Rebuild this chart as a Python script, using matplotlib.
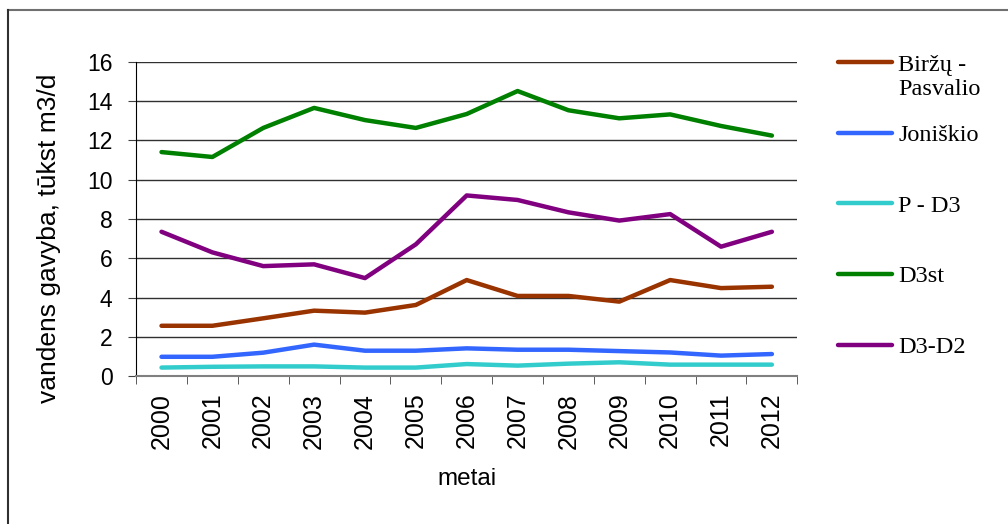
import matplotlib.pyplot as plt
from matplotlib.lines import Line2D

years = ['2000', '2001', '2002', '2003', '2004', '2005', '2006',
         '2007', '2008', '2009', '2010', '2011', '2012']

birzu = [2.56, 2.56, 2.94, 3.33, 3.23, 3.62, 4.89, 4.08, 4.08, 3.79, 4.89, 4.48, 4.55]
joniskio = [0.98, 0.98, 1.19, 1.60, 1.29, 1.29, 1.41, 1.34, 1.34, 1.27, 1.20, 1.04, 1.12]
p_d3 = [0.43, 0.47, 0.49, 0.49, 0.43, 0.43, 0.61, 0.53, 0.63, 0.70, 0.58, 0.58, 0.58]
d3st = [11.41, 11.16, 12.64, 13.66, 13.04, 12.64, 13.35, 14.52, 13.54, 13.13, 13.33, 12.74, 12.25]
d3_d2 = [7.35, 6.30, 5.60, 5.69, 4.99, 6.71, 9.20, 8.97, 8.34, 7.92, 8.25, 6.59, 7.35]

series = [
    ('Biržų -', birzu, '#993300'),
    ('Joniškio', joniskio, '#3366FF'),
    ('P - D3', p_d3, '#33CCCC'),
    ('D3st', d3st, '#008000'),
    ('D3-D2', d3_d2, '#800080'),
]

plt.rcParams['font.family'] = ['Liberation Sans', 'DejaVu Sans']

fig = plt.figure(figsize=(10.08, 5.24), dpi=100)
ax = fig.add_axes([0.135, 0.2824, 0.656, 0.5993])

x = list(range(len(years)))
for name, vals, col in series:
    ax.plot(x, vals, color=col, lw=3.2, solid_capstyle='round', label=name)

ax.set_ylim(0, 16)
ax.set_yticks(range(0, 17, 2))
ax.set_xlim(-0.5, len(years) - 0.5)
ax.set_xticks(x)
ax.set_xticklabels(years, rotation=90, fontsize=18)
ax.tick_params(axis='x', length=0, pad=12)
ax.set_xticks([i - 0.5 for i in range(len(years) + 1)], minor=True)
ax.tick_params(axis='x', which='minor', length=6, color='#404040')
ax.tick_params(axis='y', labelsize=16.5, length=6, color='#404040', direction='out', pad=11)
ax.grid(axis='y', color='#303030', lw=1)
ax.set_axisbelow(True)
for s in ['top', 'right']:
    ax.spines[s].set_visible(False)
ax.spines['left'].set_color('black')
ax.spines['bottom'].set_color('#808080')
ax.spines['bottom'].set_linewidth(1.5)

ax.set_ylabel('vandens gavyba, tūkst m3/d', fontsize=19)
ax.yaxis.set_label_coords(-0.113, 0.44)
ax.set_xlabel('metai', fontsize=17.5, labelpad=14)

leg = fig.legend(loc='upper left', bbox_to_anchor=(0.8194, 0.921), frameon=False,
                 prop={'family': 'Liberation Serif', 'size': 17.5}, borderpad=0,
                 handlelength=2.22, handletextpad=0.25, labelspacing=2.0)
for h in leg.legend_handles:
    h.set_linewidth(3.2)

# second line of the first legend label, placed under "Biržų -"
fig.canvas.draw()
bb = leg.get_texts()[0].get_window_extent()
fig.text(bb.x0 / 1008, (bb.y0 - 3) / 524, 'Pasvalio', va='top', ha='left',
         family='Liberation Serif', fontsize=17.5)

# outer chart frame (top and left edges only visible in the reference)
fig.add_artist(Line2D([8 / 1008, 1], [1 - 10 / 524] * 2, transform=fig.transFigure,
                      color='#707070', lw=1.5))
fig.add_artist(Line2D([8 / 1008] * 2, [0, 1 - 10 / 524], transform=fig.transFigure,
                      color='#303030', lw=1.5))

fig.savefig('out.png', dpi=100)
